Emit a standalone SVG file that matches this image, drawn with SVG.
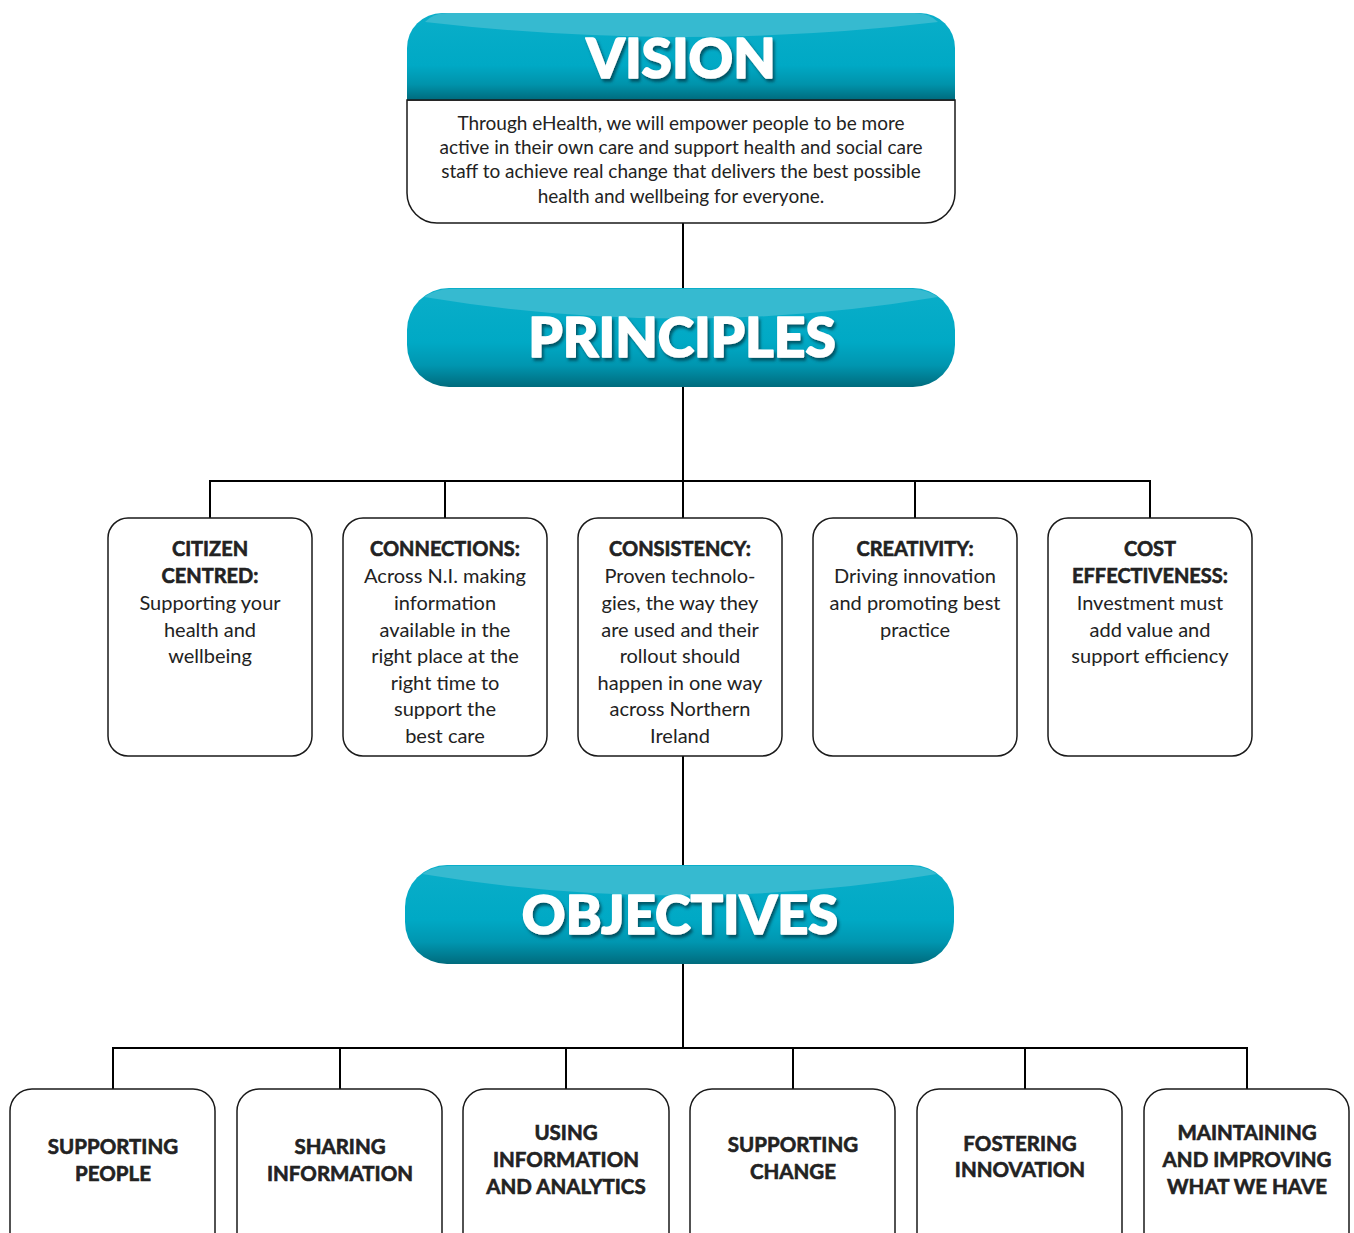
<svg xmlns="http://www.w3.org/2000/svg" width="1354" height="1233" viewBox="0 0 1354 1233">
  <defs>
    <linearGradient id="teal" x1="0" y1="0" x2="0" y2="1">
      <stop offset="0" stop-color="#0aaec9"/>
      <stop offset="0.55" stop-color="#00a9c5"/>
      <stop offset="0.78" stop-color="#0096b0"/>
      <stop offset="1" stop-color="#006b7d"/>
    </linearGradient>
    <linearGradient id="tealTop" x1="0" y1="0" x2="0" y2="1">
      <stop offset="0" stop-color="#0aaec9"/>
      <stop offset="0.6" stop-color="#00a9c5"/>
      <stop offset="0.82" stop-color="#0093ab"/>
      <stop offset="1" stop-color="#006b7d"/>
    </linearGradient>
    <filter id="shadow" x="-10%" y="-20%" width="120%" height="160%">
      <feDropShadow dx="2" dy="3" stdDeviation="1.8" flood-color="#003b47" flood-opacity="0.75"/>
    </filter>
  </defs>
  <style>
    .box { fill: #ffffff; stroke: #1a1a1a; stroke-width: 1.5; }
    .gloss { fill: #36bad0; }
    .title { font-family: Lato, "Open Sans", "Liberation Sans", sans-serif; font-weight: 900; fill: #ffffff; stroke: #ffffff; stroke-width: 1.6; stroke-linejoin: round; text-anchor: middle; filter: url(#shadow); }
    .body { font-family: Lato, "Open Sans", "Liberation Sans", sans-serif; fill: #222222; text-anchor: middle; }
    .vis { font-size: 19px; }
    .pr { font-size: 20px; }
    .hd { font-weight: 700; stroke: #222222; stroke-width: 0.6; }
    .ob { font-size: 20.5px; font-weight: 700; stroke: #222222; stroke-width: 0.6; }
    .wire { stroke: #000000; stroke-width: 2; fill: none; }
  </style>

  <g id="connectors">
    <line class="wire" x1="683" y1="223" x2="683" y2="288"/>
    <line class="wire" x1="683" y1="387" x2="683" y2="481"/>
    <polyline class="wire" points="210,518 210,481 1150,481 1150,518"/>
    <line class="wire" x1="445" y1="481" x2="445" y2="518"/>
    <line class="wire" x1="683" y1="481" x2="683" y2="518"/>
    <line class="wire" x1="915" y1="481" x2="915" y2="518"/>
    <line class="wire" x1="683" y1="756" x2="683" y2="865"/>
    <line class="wire" x1="683" y1="964" x2="683" y2="1048"/>
    <polyline class="wire" points="113,1089 113,1048 1247,1048 1247,1089"/>
    <line class="wire" x1="340" y1="1048" x2="340" y2="1089"/>
    <line class="wire" x1="566" y1="1048" x2="566" y2="1089"/>
    <line class="wire" x1="793" y1="1048" x2="793" y2="1089"/>
    <line class="wire" x1="1025" y1="1048" x2="1025" y2="1089"/>
  </g>

  <!-- Vision -->
  <g id="vision">
    <path class="box" d="M407,100 V193 A30,30 0 0 0 437,223 H925 A30,30 0 0 0 955,193 V100 Z"/>
    <path fill="url(#tealTop)" d="M407,100 V48 A35,35 0 0 1 442,13 H920 A35,35 0 0 1 955,48 V100 Z"/>
    <path class="gloss" d="M425,22 Q433,13 448,13 H914 Q929,13 938,22 Q683,52 425,22 Z"/>
    <line x1="407" y1="100" x2="955" y2="100" stroke="#1a1a1a" stroke-width="1.5"/>
    <text class="title" x="681" y="78" font-size="55">VISION</text>
    <text class="body vis" x="681" y="130">Through eHealth, we will empower people to be more</text>
    <text class="body vis" x="681" y="154">active in their own care and support health and social care</text>
    <text class="body vis" x="681" y="178">staff to achieve real change that delivers the best possible</text>
    <text class="body vis" x="681" y="203">health and wellbeing for everyone.</text>
  </g>

  <!-- Principles banner -->
  <g id="principles">
    <rect x="407" y="288" width="548" height="99" rx="42" fill="url(#teal)"/>
    <path class="gloss" d="M424,297 Q436,289 450,289 H912 Q926,289 938,297 Q683,340 424,297 Z"/>
    <text class="title" x="682" y="357" font-size="55">PRINCIPLES</text>
  </g>

  <g id="citizen-centred">
    <rect class="box" x="108" y="518" width="204" height="238" rx="20"/>
    <text class="body pr hd" x="210" y="556">CITIZEN</text>
    <text class="body pr hd" x="210" y="583">CENTRED:</text>
    <text class="body pr" x="210" y="610">Supporting your</text>
    <text class="body pr" x="210" y="637">health and</text>
    <text class="body pr" x="210" y="663">wellbeing</text>
  </g>

  <g id="connections">
    <rect class="box" x="343" y="518" width="204" height="238" rx="20"/>
    <text class="body pr hd" x="445" y="556">CONNECTIONS:</text>
    <text class="body pr" x="445" y="583">Across N.I. making</text>
    <text class="body pr" x="445" y="610">information</text>
    <text class="body pr" x="445" y="637">available in the</text>
    <text class="body pr" x="445" y="663">right place at the</text>
    <text class="body pr" x="445" y="690">right time to</text>
    <text class="body pr" x="445" y="716">support the</text>
    <text class="body pr" x="445" y="743">best care</text>
  </g>

  <g id="consistency">
    <rect class="box" x="578" y="518" width="204" height="238" rx="20"/>
    <text class="body pr hd" x="680" y="556">CONSISTENCY:</text>
    <text class="body pr" x="680" y="583">Proven technolo-</text>
    <text class="body pr" x="680" y="610">gies, the way they</text>
    <text class="body pr" x="680" y="637">are used and their</text>
    <text class="body pr" x="680" y="663">rollout should</text>
    <text class="body pr" x="680" y="690">happen in one way</text>
    <text class="body pr" x="680" y="716">across Northern</text>
    <text class="body pr" x="680" y="743">Ireland</text>
  </g>

  <g id="creativity">
    <rect class="box" x="813" y="518" width="204" height="238" rx="20"/>
    <text class="body pr hd" x="915" y="556">CREATIVITY:</text>
    <text class="body pr" x="915" y="583">Driving innovation</text>
    <text class="body pr" x="915" y="610">and promoting best</text>
    <text class="body pr" x="915" y="637">practice</text>
  </g>

  <g id="cost-effectiveness">
    <rect class="box" x="1048" y="518" width="204" height="238" rx="20"/>
    <text class="body pr hd" x="1150" y="556">COST</text>
    <text class="body pr hd" x="1150" y="583">EFFECTIVENESS:</text>
    <text class="body pr" x="1150" y="610">Investment must</text>
    <text class="body pr" x="1150" y="637">add value and</text>
    <text class="body pr" x="1150" y="663">support efficiency</text>
  </g>

  <!-- Objectives banner -->
  <g id="objectives">
    <rect x="405" y="865" width="549" height="99" rx="42" fill="url(#teal)"/>
    <path class="gloss" d="M422,874 Q434,866 448,866 H911 Q925,866 937,874 Q681,917 422,874 Z"/>
    <text class="title" x="680" y="934" font-size="54">OBJECTIVES</text>
  </g>

  <g id="supporting-people">
    <rect class="box" x="10" y="1089" width="205" height="200" rx="22"/>
    <text class="body ob" x="113" y="1154">SUPPORTING</text>
    <text class="body ob" x="113" y="1181">PEOPLE</text>
  </g>

  <g id="sharing-information">
    <rect class="box" x="237" y="1089" width="205" height="200" rx="22"/>
    <text class="body ob" x="340" y="1154">SHARING</text>
    <text class="body ob" x="340" y="1181">INFORMATION</text>
  </g>

  <g id="using-information">
    <rect class="box" x="463" y="1089" width="206" height="200" rx="22"/>
    <text class="body ob" x="566" y="1140">USING</text>
    <text class="body ob" x="566" y="1167">INFORMATION</text>
    <text class="body ob" x="566" y="1194">AND ANALYTICS</text>
  </g>

  <g id="supporting-change">
    <rect class="box" x="690" y="1089" width="205" height="200" rx="22"/>
    <text class="body ob" x="793" y="1152">SUPPORTING</text>
    <text class="body ob" x="793" y="1179">CHANGE</text>
  </g>

  <g id="fostering-innovation">
    <rect class="box" x="917" y="1089" width="205" height="200" rx="22"/>
    <text class="body ob" x="1020" y="1151">FOSTERING</text>
    <text class="body ob" x="1020" y="1177">INNOVATION</text>
  </g>

  <g id="maintaining-improving">
    <rect class="box" x="1144" y="1089" width="205" height="200" rx="22"/>
    <text class="body ob" x="1247" y="1140">MAINTAINING</text>
    <text class="body ob" x="1247" y="1167">AND IMPROVING</text>
    <text class="body ob" x="1247" y="1194">WHAT WE HAVE</text>
  </g>
</svg>
